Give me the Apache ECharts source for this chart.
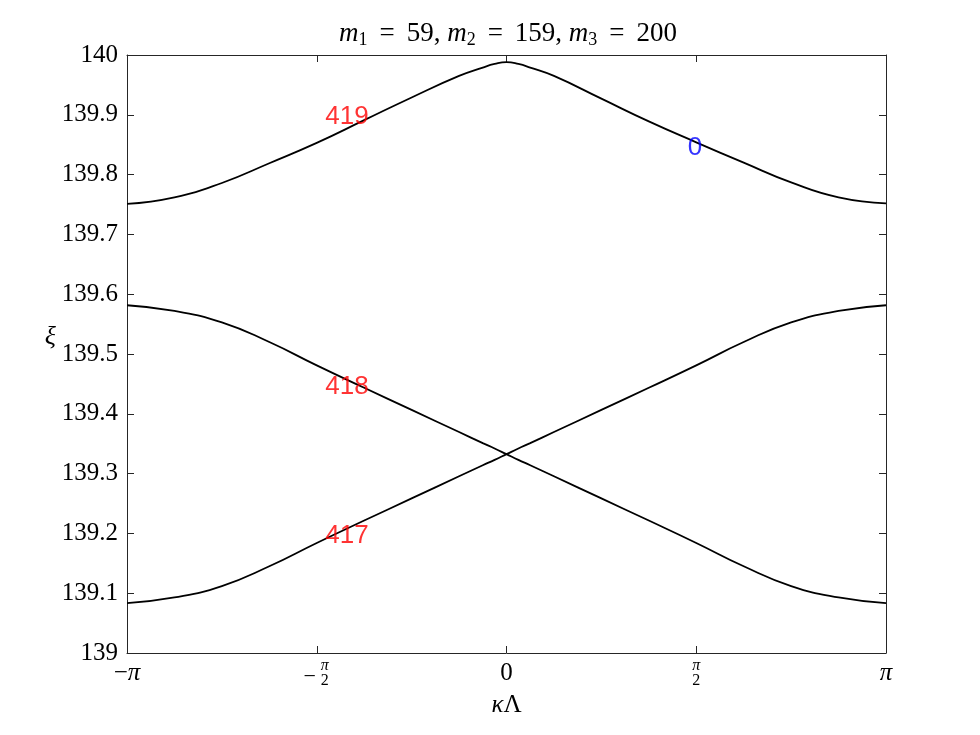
<!DOCTYPE html>
<html>
<head>
<meta charset="utf-8">
<script src="https://cdn.jsdelivr.net/npm/echarts@6/dist/echarts.min.js"></script>
<style>html,body{margin:0;padding:0;background:#fff;}#c{width:980px;height:735px;}</style>
</head>
<body>
<div id="c"></div>
<script>
// kappa*Lambda sample positions, in units of pi
const xFrac = [-1,-0.875,-0.75,-0.625,-0.5,-0.375,-0.25,-0.125,-0.0625,-0.03125,0,0.03125,0.0625,0.125,0.25,0.375,0.5,0.625,0.75,0.875,1];
// band 419 (top)
const band419 = [139.751,139.762,139.786,139.819,139.853,139.891,139.929,139.965,139.979,139.985,139.988,139.985,139.979,139.965,139.927,139.889,139.854,139.820,139.787,139.762,139.752];
// band 418 (decreasing)
const band418 = [139.5815,139.572,139.553,139.520,139.481,139.4435,139.4065,139.3695,139.351,139.342,139.3325,139.323,139.314,139.2955,139.2585,139.2215,139.184,139.145,139.112,139.093,139.0835];
// band 417 (increasing)
const band417 = [139.0835,139.093,139.112,139.145,139.184,139.2215,139.2585,139.2955,139.314,139.323,139.3325,139.342,139.351,139.3695,139.4065,139.4435,139.481,139.520,139.553,139.572,139.5815];

// text annotations
const labelText = ['419','418','417','0'];
const labelX = [-1.5,-1.5,-1.5,1.5];
const labelY = [139.896,139.445,139.196,139.845];
const labelColor = ['#ff0000','#ff0000','#ff0000','#0000ff'];

// axis settings
const yMin = 139, yMax = 140, yStep = 0.1;

const PI = Math.PI;
const serif = '"Liberation Serif","DejaVu Serif",serif';
const axisColor = '#262626';

function pairs(ys){ return xFrac.map((f,i)=>[f*PI, ys[i]]); }
function near(v, f){ return Math.abs(v - f*PI) < 1e-6; }

const chart = echarts.init(document.getElementById('c'), null, {renderer:'canvas'});

const lineStyle = {color:'#000', width:1.8};
const mkLine = (name, ys) => ({
  name, type:'line', data:pairs(ys), xAxisIndex:0, yAxisIndex:0,
  showSymbol:false, symbol:'none', smooth:0.5,
  lineStyle, z:3, silent:true
});

const tBase = {fontFamily:serif, fontWeight:'normal', color:'#000'};
const option = {
  animation:false,
  backgroundColor:'#ffffff',
  title:{
    text:'{i|m}{s|1}{e|=}{r|59, }{i|m}{s|2}{e|=}{r|159, }{i|m}{s|3}{e|=}{r|200}',
    left:503, top:14, textAlign:'center',
    textStyle:{
      fontWeight:'normal',
      rich:{
        i:Object.assign({fontStyle:'italic', fontSize:27, lineHeight:30}, tBase),
        r:Object.assign({fontSize:27, lineHeight:30}, tBase),
        e:Object.assign({fontSize:27, lineHeight:30, padding:[0,12,0,12]}, tBase),
        s:Object.assign({fontSize:18, lineHeight:17, verticalAlign:'bottom'}, tBase)
      }
    }
  },
  grid:{left:127, right:94, top:55, bottom:82, containLabel:false},
  xAxis:[
    {
      type:'value', min:-PI, max:PI, interval:PI/2, position:'bottom',
      axisLine:{show:true, onZero:false, lineStyle:{color:axisColor, width:1}},
      axisTick:{show:true, inside:true, length:7, lineStyle:{color:axisColor}},
      splitLine:{show:false},
      axisLabel:{
        margin:5, verticalAlign:'top',
        formatter:function(v){
          if (near(v,-1)) return '{b|−}{bi|π}';
          if (near(v,1)) return '{bi|π}';
          if (near(v,0)) return '{b|0}';
          if (near(v,-0.5)) return '{pad|}{fi|π}\n{pad|}{f|2}';
          if (near(v,0.5)) return '{fi|π}\n{f|2}';
          return '';
        },
        rich:{
          b:{fontFamily:serif, fontSize:25, color:'#000', lineHeight:26, padding:[5,0,0,0]},
          bi:{fontFamily:serif, fontStyle:'italic', fontSize:25, color:'#000', lineHeight:26, padding:[5,0,0,0]},
          fi:{fontFamily:serif, fontStyle:'italic', fontSize:16, color:'#000', lineHeight:15, width:12, align:'center'},
          f:{fontFamily:serif, fontSize:16, color:'#000', lineHeight:15, width:12, align:'center'},
          pad:{width:16}
        }
      },
      name:'{k|κ}{l|Λ}', nameLocation:'middle', nameGap:40,
      nameTextStyle:{rich:{
        k:{fontFamily:serif, fontStyle:'italic', fontSize:25, color:'#000'},
        l:{fontFamily:serif, fontSize:25, color:'#000'}
      }}
    },
    {
      type:'value', min:-PI, max:PI, interval:PI/2, position:'bottom',
      axisLine:{show:false}, axisTick:{show:false}, splitLine:{show:false},
      axisLabel:{
        margin:13, verticalAlign:'top',
        formatter:function(v){ return near(v,-0.5) ? '{m|−}{pad|}' : ''; },
        rich:{
          m:{fontFamily:serif, fontSize:22, color:'#000'},
          pad:{width:14}
        }
      }
    },
    {
      type:'value', min:-PI, max:PI, interval:PI/2, position:'top',
      axisLine:{show:true, onZero:false, lineStyle:{color:axisColor, width:1}},
      axisTick:{show:true, inside:true, length:7, lineStyle:{color:axisColor}},
      axisLabel:{show:false}, splitLine:{show:false}
    }
  ],
  yAxis:[
    {
      type:'value', min:yMin, max:yMax, interval:yStep, position:'left',
      axisLine:{show:true, onZero:false, lineStyle:{color:axisColor, width:1}},
      axisTick:{show:true, inside:true, length:7, lineStyle:{color:axisColor}},
      splitLine:{show:false},
      axisLabel:{
        margin:9, fontFamily:serif, fontSize:25, color:'#000',
        formatter:function(v){ return String(+v.toFixed(1)); }
      },
      name:'ξ', nameLocation:'middle', nameGap:66, nameRotate:0,
      nameTextStyle:{fontFamily:serif, fontStyle:'italic', fontSize:26, color:'#000', verticalAlign:'bottom', padding:[0,0,4,0]}
    },
    {
      type:'value', min:yMin, max:yMax, interval:yStep, position:'right',
      axisLine:{show:true, onZero:false, lineStyle:{color:axisColor, width:1}},
      axisTick:{show:true, inside:true, length:7, lineStyle:{color:axisColor}},
      axisLabel:{show:false}, splitLine:{show:false}
    }
  ],
  series:[
    mkLine('419', band419),
    mkLine('418', band418),
    mkLine('417', band417),
    {
      name:'labels', type:'scatter', xAxisIndex:0, yAxisIndex:0,
      symbolSize:0, silent:true, z:5,
      data: labelText.map((t,i)=>({
        value:[labelX[i], labelY[i]],
        label:{color:labelColor[i]},
        name:t
      })),
      label:{
        show:true, position:'right', distance:0,
        fontFamily:'"Liberation Sans", Arial, sans-serif', fontSize:26,
        formatter:function(p){ return p.name; }
      }
    }
  ]
};
chart.setOption(option);
</script>
</body>
</html>
